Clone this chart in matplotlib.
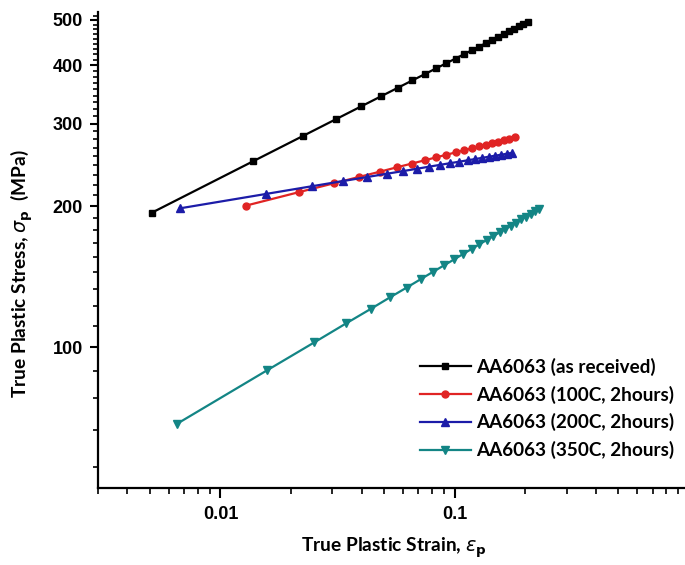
import numpy as np
import matplotlib
matplotlib.use("Agg")
import matplotlib.pyplot as plt
from matplotlib.ticker import FixedLocator, NullFormatter

# true plastic strain / stress (MPa) for each heat-treatment condition
strain_ar = [0.0051, 0.0138, 0.0225, 0.0312, 0.0399, 0.0486, 0.0573, 0.0660,
             0.0747, 0.0834, 0.0921, 0.1008, 0.1095, 0.1182, 0.1269, 0.1356,
             0.1443, 0.1530, 0.1617, 0.1704, 0.1791, 0.1878, 0.1965, 0.2052]
stress_ar = [193.8, 249.6, 282.6, 307.1, 326.9, 343.7, 358.4, 371.5,
             383.3, 394.2, 404.2, 413.6, 422.4, 430.7, 438.5, 445.9,
             453.0, 459.8, 466.3, 472.5, 478.6, 484.4, 490.0, 495.4]

strain_100 = [0.0128, 0.0216, 0.0304, 0.0392, 0.0480, 0.0568, 0.0656, 0.0744,
              0.0832, 0.0920, 0.1008, 0.1096, 0.1184, 0.1272, 0.1360, 0.1448,
              0.1536, 0.1624, 0.1712, 0.1800]
stress_100 = [200.5, 214.3, 223.8, 231.1, 237.1, 242.3, 246.7, 250.7,
              254.3, 257.6, 260.6, 263.4, 265.9, 268.4, 270.7, 272.8,
              274.9, 276.9, 278.7, 280.5]

strain_200 = [0.0067, 0.0156, 0.0245, 0.0334, 0.0423, 0.0512, 0.0601, 0.0690,
              0.0779, 0.0868, 0.0957, 0.1046, 0.1135, 0.1224, 0.1313, 0.1402,
              0.1491, 0.1580, 0.1669, 0.1758]
stress_200 = [197.9, 212.4, 220.6, 226.4, 230.9, 234.6, 237.7, 240.5,
              243.0, 245.2, 247.2, 249.0, 250.7, 252.3, 253.8, 255.2,
              256.5, 257.7, 258.9, 260.1]

strain_350 = [0.0065, 0.0158, 0.0251, 0.0344, 0.0437, 0.0530, 0.0623, 0.0716,
              0.0809, 0.0902, 0.0995, 0.1088, 0.1181, 0.1274, 0.1367, 0.1460,
              0.1553, 0.1646, 0.1739, 0.1832, 0.1925, 0.2018, 0.2111, 0.2204,
              0.2297]
stress_350 = [68.5, 89.2, 102.3, 112.4, 120.6, 127.8, 134.0, 139.7,
              144.9, 149.6, 154.0, 158.2, 162.1, 165.8, 169.3, 172.6,
              175.8, 178.9, 181.8, 184.6, 187.4, 190.0, 192.6, 195.1,
              197.5]

labels = ["AA6063 (as received)", "AA6063 (100C, 2hours)",
          "AA6063 (200C, 2hours)", "AA6063 (350C, 2hours)"]

y_major = [100, 200, 300, 400, 500]
x_major = [0.01, 0.1, 1]
x_major_labels = ["0.01", "0.1", ""]

fig = plt.figure(figsize=(6.85, 5.65), dpi=100)
ax = fig.add_axes([98 / 685, 77 / 565, 591 / 685, 476 / 565])

ax.plot(strain_ar, stress_ar, color="black", marker="s", ms=4.5, lw=1.6, label=labels[0])
ax.plot(strain_100, stress_100, color="#e02424", marker="o", ms=5, lw=1.6, label=labels[1])
ax.plot(strain_200, stress_200, color="#1c1ca8", marker="^", ms=5.5, lw=1.6, label=labels[2])
ax.plot(strain_350, stress_350, color="#138585", marker="v", ms=5.5, lw=1.6, label=labels[3])

ax.set_xscale("log")
ax.set_yscale("log")
ax.set_xlim(0.003, 1.0)
ax.set_ylim(50, 520)

# Origin-style minor ticks: 8 evenly spaced between the major stress ticks
step = 100 / 9
y_minor = [100 - step * k for k in range(1, 5)]
for m in y_major[:-1]:
    y_minor += [m + step * k for k in range(1, 9)]
y_minor.append(500 + step)

ax.yaxis.set_major_locator(FixedLocator(y_major))
ax.yaxis.set_minor_locator(FixedLocator(y_minor))
ax.set_yticklabels([str(v) for v in y_major])
ax.yaxis.set_minor_formatter(NullFormatter())

ax.xaxis.set_major_locator(FixedLocator(x_major))
ax.set_xticklabels(x_major_labels)
x_minor = [s * 10.0 ** e for e in (-3, -2, -1) for s in range(2, 10)]
ax.xaxis.set_minor_locator(FixedLocator(x_minor))
ax.xaxis.set_minor_formatter(NullFormatter())

for s in ("top", "right"):
    ax.spines[s].set_visible(False)
for s in ("left", "bottom"):
    ax.spines[s].set_linewidth(1.6)

ax.tick_params(axis="y", which="major", length=6, width=1.5, pad=5)
ax.tick_params(axis="y", which="minor", length=3.5, width=1.2)
ax.tick_params(axis="x", which="major", length=7, width=1.5, pad=6)
ax.tick_params(axis="x", which="minor", length=4.5, width=1.2)
for t in ax.get_xticklabels() + ax.get_yticklabels():
    t.set_fontfamily("Liberation Sans")
    t.set_fontweight("bold")
    t.set_fontsize(13)

fig.text(394 / 685, 1 - 548 / 565, r"True Plastic Strain, $\varepsilon_{\mathbf{p}}$",
         ha="center", va="center", fontsize=13.8, fontweight="bold", family="Lato")
fig.text(22 / 685, 1 - 274 / 565, r"True Plastic Stress, $\sigma_{\mathbf{p}}$  (MPa)",
         ha="center", va="center", rotation=90, fontsize=13.8, fontweight="bold", family="Lato")

leg = ax.legend(loc="upper left", bbox_to_anchor=(314 / 591, 1 - 338 / 476),
                frameon=False, handlelength=2.7, handletextpad=0.3,
                labelspacing=0.52, borderaxespad=0,
                prop={"family": "Lato", "weight": "bold", "size": 13.6})

fig.savefig("out.png", dpi=100)
